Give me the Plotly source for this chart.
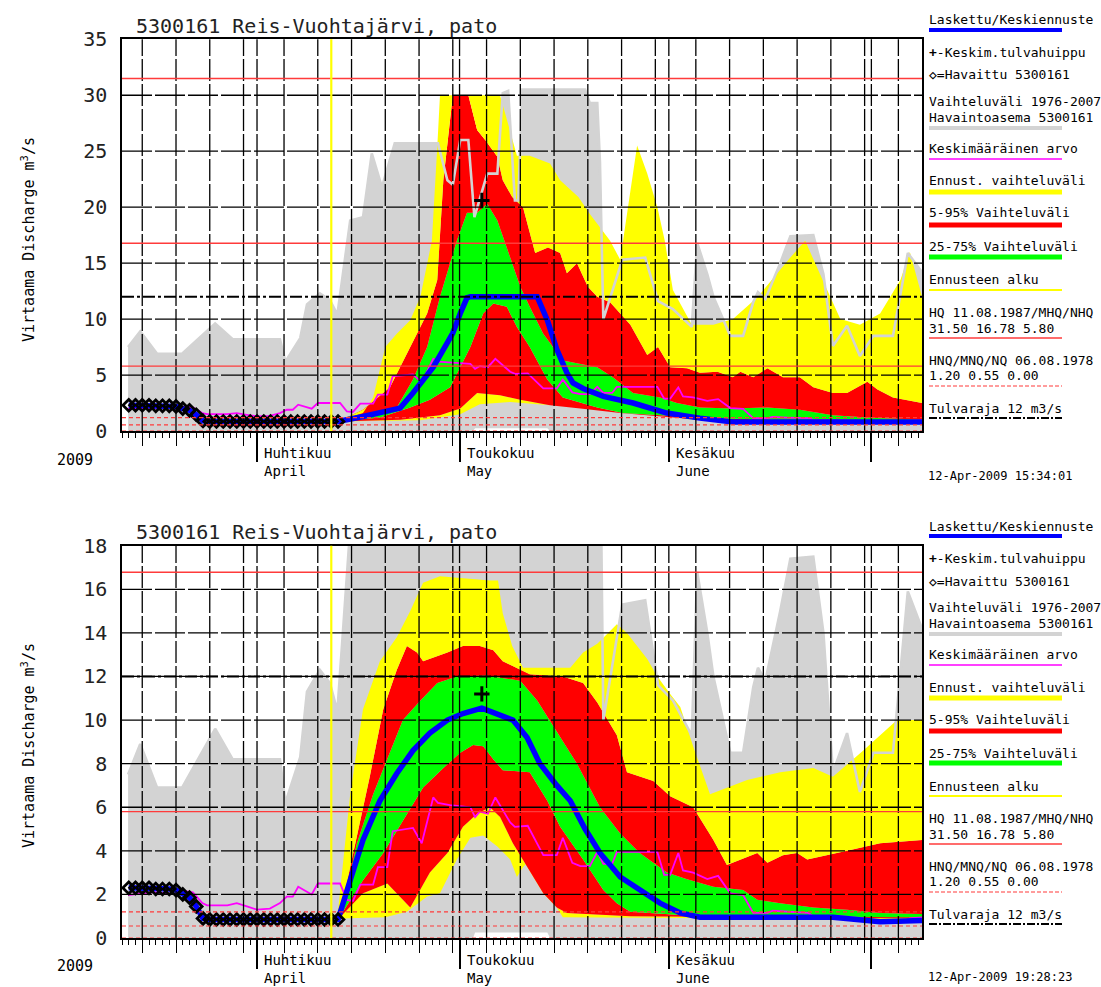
import pandas as pd
import plotly.graph_objects as go

BASE = pd.Timestamp("2009-03-01")


def to_dates(days):
    return [BASE + pd.Timedelta(days=float(d)) for d in days]


# ---------------- data (x = days since 1 March 2009) ----------------
# observed discharge (black diamonds)
obs_days = [12, 13, 14, 15, 16, 17, 18, 19, 20, 21, 22, 23, 24, 25, 26, 27, 28, 29, 30, 31,
            32, 33, 34, 35, 36, 37, 38, 39, 40, 41, 42, 43]
obs_vals = [2.3, 2.3, 2.3, 2.3, 2.25, 2.25, 2.25, 2.2, 2.0, 1.85, 1.45, 0.9, 0.85, 0.85, 0.85,
            0.85, 0.85, 0.85, 0.85, 0.85, 0.85, 0.85, 0.85, 0.85, 0.85, 0.85, 0.85, 0.85, 0.85,
            0.85, 0.85, 0.85]

# historical range 1976-2007 (grey)
hist_max_days = [11.9, 13.7, 16.2, 19.9, 24.8, 27.4, 34.4, 35.2, 37.4, 38.4, 40.3, 41.8, 42.9,
                 44.0, 44.8, 46.7, 48.0, 49.5, 51.4, 57.8, 59.2, 60.0, 61.1, 62.3, 63.2, 65.1,
                 66.6, 67.4, 68.2, 69.2, 69.7, 70.3, 79.6, 80.3, 81.4, 81.8, 82.3, 85.1, 88.5,
                 90.4, 92.6, 95.4, 96.2, 97.7, 98.6, 101.1, 103.0, 104.5, 105.2, 106.3, 108.5,
                 110.0, 113.4, 114.9, 116.3, 118.4, 120.3, 122.3, 125.2, 127.4, 129.5]
hist_max_vals = [7.5, 8.9, 6.9, 6.9, 9.6, 8.2, 8.2, 6.2, 8.3, 11.3, 12.3, 11.7, 10.4,
                 15.0, 18.8, 19.1, 24.8, 21.8, 25.7, 25.7, 22.4, 22.0, 26.0, 26.0, 19.1, 23.0,
                 23.0, 30.2, 30.4, 20.6, 20.6, 30.5, 30.5, 29.3, 29.3, 24.0, 10.0, 15.3, 15.5,
                 11.6, 10.9, 9.3, 16.8, 14.0, 12.0, 8.5, 8.5, 11.5, 12.4, 11.8, 15.0,
                 17.4, 17.5, 14.0, 7.6, 9.4, 6.7, 8.5, 8.5, 15.9, 14.2]
hist_min_days = [11.9, 63.0, 63.3, 74.0, 74.4, 129.5]
hist_min_vals = [0.0, 0.0, 0.25, 0.25, 0.0, 0.0]

# long-term mean (magenta)
mean_days = [11.9, 14.1, 15.6, 17.7, 19.3, 20.3, 21.5, 22.9, 23.6, 26.6, 28.0, 29.5, 31.0, 32.9,
             34.4, 35.4, 36.3, 37.1, 39.1, 40.0, 43.3, 44.3, 45.2, 46.3, 48.2, 48.9, 50.3, 51.1,
             54.1, 55.4, 57.1, 57.8, 59.6, 62.6, 63.3, 64.0, 65.2, 66.3, 68.5, 69.2, 71.1, 73.4,
             75.4, 76.3, 77.7, 78.9, 80.3, 81.4, 82.3, 83.6, 84.3, 90.3, 91.3, 92.2, 93.4, 94.1,
             95.6, 97.7, 99.3, 101.1, 103.0, 104.5, 106.6, 107.4, 109.5, 112.6, 113.4, 117.4,
             119.3, 120.8, 123.3, 126.3, 127.7, 129.5]
mean_vals = [1.97, 2.05, 2.1, 2.05, 2.0, 2.15, 2.1, 1.6, 1.5, 1.5, 1.6, 1.45, 1.3, 1.35,
             1.6, 1.9, 1.9, 2.35, 2.0, 2.5, 2.5, 1.75, 1.7, 2.45, 2.45, 3.25, 3.25, 4.9,
             5.05, 4.35, 6.45, 6.2, 6.1, 6.0, 5.55, 5.8, 5.7, 6.45, 5.3, 5.1, 5.15, 3.8,
             3.8, 4.6, 3.45, 3.3, 3.3, 3.95, 3.4, 3.4, 3.95, 3.95, 2.9, 2.9, 3.9, 3.1,
             3.0, 2.7, 2.85, 2.05, 1.97, 1.15, 1.15, 1.25, 1.2, 1.15, 1.0, 1.0,
             0.95, 0.9, 0.7, 0.7, 0.9, 0.95]

# ---- forecast 1 (12-Apr-2009 15:34) ----
fc1_mean_days = [43.0, 46.7, 52.2, 54.1, 57.1, 59.2, 60.0, 61.1, 62.1, 62.6, 72.5, 74.0, 75.4,
                 76.9, 77.8, 79.3, 82.3, 86.7, 91.7, 96.6, 101.5, 129.5]
fc1_mean_vals = [0.85, 1.3, 2.05, 3.4, 5.7, 7.9, 8.75, 10.5, 11.9, 12.0, 12.0, 9.9, 7.3,
                 5.2, 4.3, 3.8, 3.1, 2.5, 1.6, 1.15, 0.8, 0.8]
fc1_max_days = [43.0, 46.7, 48.2, 50.0, 51.7, 53.7, 55.2, 56.9, 57.7, 58.1, 67.0, 69.5, 71.4,
                74.4, 75.9, 78.6, 80.3, 83.3, 84.8, 86.3, 87.3, 88.8, 90.3, 91.4, 92.6, 95.4,
                98.6, 101.5, 105.2, 110.0, 112.2, 114.4, 117.4, 120.3, 123.3, 126.3, 127.7, 129.5]
fc1_max_vals = [0.85, 1.6, 3.0, 7.5, 8.7, 9.9, 12.0, 17.0, 25.4, 30.0, 30.0, 24.6, 24.6,
                23.9, 22.4, 20.9, 19.4, 17.0, 15.3, 21.2, 25.5, 23.0, 20.0, 17.0, 12.6, 9.5,
                9.5, 10.0, 12.0, 15.5, 17.0, 14.0, 10.0, 9.5, 10.5, 13.5, 16.0, 12.0]
fc1_p95_days = [43.0, 46.7, 50.7, 53.7, 56.2, 57.7, 58.6, 60.0, 62.3, 63.6, 64.8, 66.6, 67.4,
                68.8, 70.4, 72.2, 74.1, 75.9, 76.9, 78.4, 80.0, 81.4, 83.3, 86.3, 88.8, 90.4,
                92.2, 94.7, 96.6, 99.2, 101.5, 102.6, 104.5, 106.6, 108.9, 111.4, 113.4, 116.3,
                118.4, 121.4, 122.9, 125.2, 129.5]
fc1_p95_vals = [0.85, 1.9, 3.9, 7.5, 10.5, 13.5, 22.4, 30.0, 30.0, 26.9, 26.0, 24.5, 22.4,
                20.9, 20.0, 15.9, 16.4, 15.9, 14.1, 15.0, 12.9, 12.0, 11.5, 9.5, 6.8, 7.5,
                5.7, 5.6, 5.2, 5.3, 4.8, 5.3, 4.8, 5.6, 4.8, 4.8, 3.9, 3.4,
                3.4, 4.4, 3.7, 3.0, 2.5]
fc1_p75_days = [43.0, 47.7, 51.7, 54.1, 56.2, 58.1, 60.6, 62.1, 63.6, 65.1, 66.6, 68.5, 70.0,
                71.4, 73.4, 76.3, 81.4, 83.7, 86.7, 90.7, 93.2, 96.6, 101.5, 106.6, 111.4,
                116.3, 121.4, 129.5]
fc1_p75_vals = [0.85, 1.3, 2.1, 4.6, 7.5, 12.0, 17.0, 19.5, 19.5, 20.3, 18.8, 15.5, 12.9,
                11.1, 8.7, 6.3, 5.7, 4.8, 3.4, 3.0, 2.5, 2.1, 2.0, 2.1, 1.9,
                1.4, 1.2, 1.0]
fc1_p25_days = [43.0, 49.2, 53.7, 56.6, 59.6, 62.6, 64.5, 66.0, 68.0, 69.5, 71.4, 74.0, 76.3,
                81.4, 85.2, 96.6, 101.5, 111.4, 129.5]
fc1_p25_vals = [0.85, 1.2, 2.1, 2.8, 3.9, 7.5, 10.5, 11.4, 11.1, 9.3, 7.5, 4.6, 3.0,
                2.1, 1.6, 1.2, 1.1, 0.95, 0.85]
fc1_p05_days = [43.0, 52.2, 58.1, 61.1, 63.6, 67.0, 70.0, 74.4, 78.9, 84.8, 96.6, 111.4, 129.5]
fc1_p05_vals = [0.85, 1.0, 1.4, 2.0, 3.4, 3.2, 2.8, 2.3, 2.0, 1.6, 1.0, 0.85, 0.8]
fc1_min_days = [43.0, 55.2, 61.1, 64.0, 68.5, 74.4, 78.9, 84.8, 96.6, 111.4, 129.5]
fc1_min_vals = [0.85, 0.95, 1.5, 2.4, 2.6, 2.3, 2.0, 1.6, 1.0, 0.85, 0.8]
fc1_peak_day = [64.3]
fc1_peak_val = [20.6]

# ---- forecast 2 (12-Apr-2009 19:28) ----
fc2_mean_days = [43.0, 44.8, 46.7, 49.2, 51.7, 54.1, 56.6, 59.2, 61.5, 64.3, 66.6, 68.9, 71.0,
                 72.9, 75.4, 77.4, 79.6, 81.8, 84.8, 87.7, 90.7, 93.7, 96.6, 116.3, 118.4,
                 123.3, 129.5]
fc2_mean_vals = [0.85, 2.65, 4.5, 6.3, 7.55, 8.6, 9.4, 10.0, 10.3, 10.55, 10.3, 10.0, 9.2,
                 8.0, 7.0, 6.3, 5.0, 3.9, 2.8, 2.2, 1.6, 1.15, 0.95, 0.95, 0.9,
                 0.75, 0.8]
fc2_max_days = [42.9, 44.8, 46.7, 49.2, 51.7, 53.7, 55.6, 58.1, 65.5, 66.7, 67.4, 68.8, 70.4,
                77.4, 79.3, 81.4, 84.3, 85.8, 88.8, 90.3, 92.2, 93.7, 95.6, 98.1, 103.6, 108.5,
                113.4, 116.3, 120.8, 125.8, 129.5]
fc2_max_vals = [0.95, 6.6, 10.5, 12.7, 13.8, 15.0, 16.3, 16.6, 16.4, 16.4, 14.9, 13.4, 12.4,
                12.4, 13.1, 13.5, 14.4, 14.0, 12.8, 12.0, 11.2, 10.6, 8.8, 6.6, 7.25, 7.6,
                7.8, 7.4, 8.6, 10.0, 10.0]
fc2_p95_days = [43.3, 47.7, 49.7, 51.7, 53.2, 54.7, 55.6, 59.2, 61.5, 64.0, 66.0, 67.4, 71.4,
                76.3, 79.3, 81.4, 84.3, 85.8, 89.7, 92.2, 95.6, 98.6, 100.6, 103.6, 105.1,
                106.6, 108.9, 111.0, 112.5, 118.4, 123.3, 129.5]
fc2_p95_vals = [1.1, 7.4, 10.5, 12.3, 13.4, 13.1, 12.7, 13.1, 13.4, 13.4, 13.2, 12.7, 12.1,
                12.0, 11.7, 10.8, 9.3, 7.6, 7.2, 6.5, 6.0, 4.5, 3.35, 3.7, 3.9,
                3.45, 3.8, 3.9, 3.6, 4.0, 4.35, 4.5]
fc2_p75_days = [43.7, 45.8, 48.2, 50.3, 52.6, 55.2, 57.7, 60.6, 65.1, 68.0, 70.0, 72.5, 75.4,
                78.4, 81.8, 84.8, 87.7, 91.7, 94.7, 98.6, 103.0, 105.1, 108.5, 113.4, 118.4,
                123.3, 129.5]
fc2_p75_vals = [1.4, 4.35, 6.6, 8.2, 10.0, 10.9, 11.7, 12.0, 12.05, 11.9, 11.8, 10.9, 9.5,
                8.0, 6.0, 4.8, 3.9, 3.0, 2.7, 2.35, 2.2, 1.75, 1.6, 1.4, 1.3,
                1.15, 1.1]
fc2_p25_days = [43.3, 46.7, 49.7, 52.6, 55.6, 58.6, 61.1, 63.0, 64.5, 66.0, 67.4, 71.4, 74.0,
                75.9, 79.3, 82.3, 84.3, 86.3, 96.6, 129.5]
fc2_p25_vals = [1.0, 2.65, 3.9, 5.4, 6.9, 7.8, 8.5, 8.85, 8.8, 8.2, 7.7, 7.6, 6.3,
                5.1, 3.6, 2.2, 1.6, 1.2, 1.0, 0.95]
fc2_p05_days = [43.3, 46.7, 50.3, 51.7, 53.7, 56.6, 59.2, 61.5, 63.6, 65.5, 67.0, 68.9, 71.4,
                73.4, 75.4, 76.9, 86.3, 129.5]
fc2_p05_vals = [0.95, 2.05, 2.5, 2.05, 1.4, 3.0, 3.9, 5.1, 5.7, 6.0, 5.55, 4.35, 3.1,
                2.05, 1.4, 1.15, 1.0, 0.9]
fc2_min_days = [43.3, 50.0, 53.2, 56.2, 58.1, 60.6, 62.6, 64.5, 66.6, 68.5, 69.5, 70.4, 71.4,
                73.4, 75.4, 76.3, 129.5]
fc2_min_vals = [0.9, 0.95, 1.2, 1.9, 2.05, 3.6, 4.6, 4.7, 4.2, 3.6, 2.8, 3.25, 3.6,
                2.65, 1.4, 0.95, 0.85]
fc2_peak_day = [64.3]
fc2_peak_val = [11.2]

# reference levels
hq_levels = [31.50, 16.78, 5.80]        # HQ / MHQ / NHQ
nq_levels = [1.20, 0.55, 0.00]          # HNQ / MNQ / NQ
flood_limit = [12.0]                    # Tulvaraja
forecast_start_day = [42.0]

x_range_days = [11.0, 129.5]
month_label_days = [31, 61, 92]
month_fi = ["Huhtikuu", "Toukokuu", "Kesäkuu"]
month_en = ["April", "May", "June"]

title_text = "5300161 Reis-Vuohtajärvi, pato"
stamps = ["12-Apr-2009 15:34:01", "12-Apr-2009 19:28:23"]

# ---------------- styling ----------------
MONO = "DejaVu Sans Mono"
GREY = "#d3d3d3"
YEL = "#ffff00"
RED = "#ff0000"
GRN = "#00ff00"
BLUE = "#0000ff"
MAG = "#ff00ff"
REFRED = "#ff3b3b"
W, H = 1101, 987

fig = go.Figure()

panels = [
    dict(xa="x", ya="y", ymax=35, ystep=5,
         mean=(fc1_mean_days, fc1_mean_vals), fmax=(fc1_max_days, fc1_max_vals),
         p95=(fc1_p95_days, fc1_p95_vals), p75=(fc1_p75_days, fc1_p75_vals),
         p25=(fc1_p25_days, fc1_p25_vals), p05=(fc1_p05_days, fc1_p05_vals),
         fmin=(fc1_min_days, fc1_min_vals), peak=(fc1_peak_day, fc1_peak_val)),
    dict(xa="x2", ya="y2", ymax=18, ystep=2,
         mean=(fc2_mean_days, fc2_mean_vals), fmax=(fc2_max_days, fc2_max_vals),
         p95=(fc2_p95_days, fc2_p95_vals), p75=(fc2_p75_days, fc2_p75_vals),
         p25=(fc2_p25_days, fc2_p25_vals), p05=(fc2_p05_days, fc2_p05_vals),
         fmin=(fc2_min_days, fc2_min_vals), peak=(fc2_peak_day, fc2_peak_val)),
]


def add_line(p, days, vals, **kw):
    fig.add_trace(go.Scatter(x=to_dates(days), y=vals, xaxis=p["xa"], yaxis=p["ya"],
                             showlegend=False, hoverinfo="skip", **kw))


for p in panels:
    # historical range band
    add_line(p, hist_min_days, hist_min_vals, mode="lines", line=dict(width=0))
    add_line(p, hist_max_days, hist_max_vals, mode="lines", line=dict(width=0),
             fill="tonexty", fillcolor=GREY)
    # forecast bands
    add_line(p, *p["fmin"], mode="lines", line=dict(width=0))
    add_line(p, *p["p05"], mode="lines", line=dict(width=0), fill="tonexty", fillcolor=YEL)
    add_line(p, *p["p25"], mode="lines", line=dict(width=0), fill="tonexty", fillcolor=RED)
    add_line(p, *p["p75"], mode="lines", line=dict(width=0), fill="tonexty", fillcolor=GRN)
    add_line(p, *p["p95"], mode="lines", line=dict(width=0), fill="tonexty", fillcolor=RED)
    add_line(p, *p["fmax"], mode="lines", line=dict(width=0), fill="tonexty", fillcolor=YEL)
    # historical max line on top of the bands
    add_line(p, hist_max_days, hist_max_vals, mode="lines", line=dict(width=2.6, color=GREY))
    # long-term mean
    add_line(p, mean_days, mean_vals, mode="lines", line=dict(width=1.8, color=MAG))
    # computed / mean forecast
    add_line(p, obs_days + p["mean"][0][1:], obs_vals + p["mean"][1][1:], mode="lines",
             line=dict(width=5.5, color=BLUE))
    # observed
    add_line(p, obs_days, obs_vals, mode="markers",
             marker=dict(symbol="diamond-open", size=9, color="black",
                         line=dict(width=2.8, color="black")))
    # mean flood peak
    add_line(p, *p["peak"], mode="markers",
             marker=dict(symbol="cross-thin", size=11, color="black",
                         line=dict(width=3, color="black")))

# hidden traces that carry the month-tick overlay axes
fig.add_trace(go.Scatter(x=[to_dates([60])[0]], y=[1], xaxis="x3", yaxis="y", mode="markers",
                         marker=dict(opacity=0), showlegend=False, hoverinfo="skip"))
fig.add_trace(go.Scatter(x=[to_dates([60])[0]], y=[1], xaxis="x4", yaxis="y2", mode="markers",
                         marker=dict(opacity=0), showlegend=False, hoverinfo="skip"))

# ---------------- axes ----------------
xr = [to_dates([x_range_days[0]])[0], to_dates([x_range_days[1]])[0]]
all_days = pd.date_range("2009-03-12", "2009-07-08", freq="D")
five_days = [d for d in all_days if d.day in (5, 10, 15, 20, 25, 30)]
month_days = [d for d in all_days if d.day == 1]
grid_days = sorted(five_days + month_days)

XDOM = [122 / W, 922 / W]
YDOM = [[1 - 431 / H, 1 - 39.3 / H], [1 - 938 / H, 1 - 545.7 / H]]

xcommon = dict(type="date", range=xr, domain=XDOM, showgrid=False, zeroline=False,
               automargin=False,
               showline=True, mirror=True, linecolor="black", linewidth=1.5,
               tickmode="array", tickvals=five_days, ticks="outside", ticklen=13,
               tickwidth=1.3, tickcolor="black", showticklabels=False,
               minor=dict(tickmode="array", tickvals=list(all_days), ticks="outside",
                          ticklen=5, tickwidth=1, tickcolor="black", showgrid=False))
xover = dict(type="date", range=xr, showgrid=False, zeroline=False, showline=False,
             automargin=False,
             tickmode="array", tickvals=month_days, ticks="outside", ticklen=30,
             tickwidth=1.5, tickcolor="black", showticklabels=False)

layout = dict(
    width=W, height=H, autosize=False, margin=dict(l=0, r=0, t=0, b=0, pad=0),
    paper_bgcolor="white", plot_bgcolor="white", showlegend=False,
    font=dict(family=MONO, color="black"),
    xaxis=dict(xcommon, anchor="y"),
    xaxis2=dict(xcommon, anchor="y2"),
    xaxis3=dict(xover, overlaying="x", anchor="y"),
    xaxis4=dict(xover, overlaying="x2", anchor="y2"),
)
for i, p in enumerate(panels):
    key = "yaxis" if i == 0 else "yaxis2"
    layout[key] = dict(range=[0, p["ymax"]], domain=YDOM[i], anchor=p["xa"],
                       automargin=False,
                       tickmode="array", tickvals=list(range(0, p["ymax"] + 1, p["ystep"])),
                       ticks="", showgrid=False, zeroline=False, showline=True, mirror=True,
                       linecolor="black", linewidth=1.5, ticklabelstandoff=9,
                       tickfont=dict(family=MONO, size=20, color="#222"))
fig.update_layout(**layout)

# ---------------- shapes (grid + reference lines, drawn above the data) ----------------
shapes = []
for p in panels:
    xa, ya = p["xa"], p["ya"]
    for d in grid_days:
        shapes.append(dict(type="line", xref=xa, yref=f"{ya} domain", x0=d, x1=d, y0=0, y1=1,
                           layer="above", line=dict(color="black", width=1.3, dash="22px,3px")))
    for v in range(p["ystep"], p["ymax"], p["ystep"]):
        shapes.append(dict(type="line", xref=f"{xa} domain", yref=ya, x0=0, x1=1, y0=v, y1=v,
                           layer="above", line=dict(color="black", width=1.3, dash="30px,3px")))
    for v in hq_levels:
        if v <= p["ymax"]:
            shapes.append(dict(type="line", xref=f"{xa} domain", yref=ya, x0=0, x1=1, y0=v, y1=v,
                               layer="above", line=dict(color=REFRED, width=1.4)))
    for v in nq_levels:
        shapes.append(dict(type="line", xref=f"{xa} domain", yref=ya, x0=0, x1=1, y0=v, y1=v,
                           layer="above", line=dict(color=REFRED, width=1.2, dash="4px,3px")))
    for v in flood_limit:
        shapes.append(dict(type="line", xref=f"{xa} domain", yref=ya, x0=0, x1=1, y0=v, y1=v,
                           layer="above",
                           line=dict(color="black", width=2, dash="12px,3px,3px,3px")))
    for d in to_dates(forecast_start_day):
        shapes.append(dict(type="line", xref=xa, yref=f"{ya} domain", x0=d, x1=d, y0=0, y1=1,
                           layer="above", line=dict(color=YEL, width=2.2)))

# ---------------- annotations & legend ----------------
ann = []
LX = 929 / W
legend_items = [
    # (text lines with y centre, bar y, colour, width, dash)
    ([("Laskettu/Keskiennuste", 20)], 30, BLUE, 4, None),
    ([("<b>+</b>-Keskim.tulvahuippu", 52)], None, None, None, None),
    ([("<b>◇</b>=Havaittu 5300161", 75)], None, None, None, None),
    ([("Vaihteluväli 1976-2007", 101), ("Havaintoasema 5300161", 117)], 128, GREY, 4, None),
    ([("Keskimääräinen arvo", 148)], 159, MAG, 1.5, None),
    ([("Ennust. vaihteluväli", 181)], 192, YEL, 5, None),
    ([("5-95% Vaihteluväli", 213)], 225, RED, 5, None),
    ([("25-75% Vaihteluväli", 247)], 257, GRN, 5, None),
    ([("Ennusteen alku", 280)], 290, YEL, 2, None),
    ([("HQ 11.08.1987/MHQ/NHQ", 312), ("31.50 16.78 5.80", 328)], 338, REFRED, 1.3, None),
    ([("HNQ/MNQ/NQ 06.08.1978", 360), ("1.20 0.55 0.00", 375)], 386, REFRED, 1.2, "4px,2px"),
    ([("Tulvaraja 12 m3/s", 408)], 418, "black", 2, "8px,2px,2px,2px"),
]
for i, p in enumerate(panels):
    off = 506 * i
    xa = p["xa"]
    ann.append(dict(text=title_text, xref="paper", yref="paper", x=134 / W, y=1 - (26 + off) / H,
                    xanchor="left", yanchor="middle", showarrow=False,
                    font=dict(family=MONO, size=20, color="#222")))
    ann.append(dict(text="Virtaama Discharge m<sup>3</sup>/s", xref="paper", yref="paper",
                    x=28 / W, y=1 - (240 + off) / H, textangle=-90, xanchor="center",
                    yanchor="middle", showarrow=False, font=dict(family=MONO, size=15)))
    ann.append(dict(text="2009", xref="paper", yref="paper", x=55 / W, y=1 - (460 + off) / H,
                    xanchor="left", yanchor="middle", showarrow=False,
                    font=dict(family=MONO, size=15)))
    for dd, fi, en in zip(to_dates(month_label_days), month_fi, month_en):
        ann.append(dict(text=f"{fi}<br>{en}", xref=xa, yref=f"{p['ya']} domain", x=dd, y=0,
                        xanchor="left", yanchor="top", align="left", xshift=5, yshift=-12,
                        showarrow=False, font=dict(family=MONO, size=14)))
    for lines, bar_y, col, wid, dash in legend_items:
        for txt, yc in lines:
            ann.append(dict(text=txt, xref="paper", yref="paper", x=LX - 2 / W,
                            y=1 - (yc + off) / H, xanchor="left", yanchor="middle",
                            showarrow=False, font=dict(family=MONO, size=13)))
        if bar_y is not None:
            ln = dict(color=col, width=wid)
            if dash:
                ln["dash"] = dash
            shapes.append(dict(type="line", xref="paper", yref="paper", x0=LX, x1=1062 / W,
                               y0=1 - (bar_y + off) / H, y1=1 - (bar_y + off) / H, line=ln))
    ann.append(dict(text=stamps[i], xref="paper", yref="paper", x=LX - 2 / W,
                    y=1 - (476 + off) / H if i == 0 else 1 - 977 / H,
                    xanchor="left", yanchor="middle", showarrow=False, borderpad=0,
                    font=dict(family=MONO, size=12)))

fig.update_layout(shapes=shapes, annotations=ann)
fig.write_html("out.html")
